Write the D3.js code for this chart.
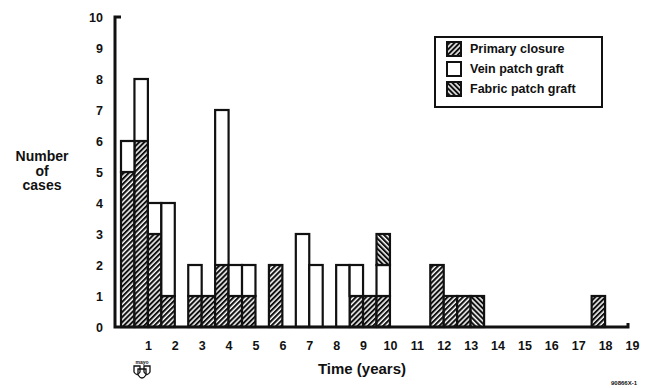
<!DOCTYPE html>
<html>
<head>
<meta charset="utf-8">
<script src="https://cdn.jsdelivr.net/npm/d3@7"></script>
<style>
  body { margin: 0; background: #fff; }
  svg { display: block; font-family: "Liberation Sans", Arial, sans-serif; font-weight: bold; }
</style>
</head>
<body>
<div id="chart"></div>
<script>
// half-year bins, start of each bin in years
const binStart = [0, 0.5, 1, 1.5, 2.5, 3, 3.5, 4, 4.5, 5.5, 6.5, 7, 8, 8.5, 9, 9.5, 11.5, 12, 12.5, 13, 17.5]
const primary  = [5, 6, 3, 1, 1, 1, 2, 1, 1, 2, 0, 0, 0, 1, 1, 1, 2, 1, 1, 0, 1]
const vein     = [1, 2, 1, 3, 1, 0, 5, 1, 1, 0, 3, 2, 2, 1, 0, 1, 0, 0, 0, 0, 0]
const fabric   = [0, 0, 0, 0, 0, 0, 0, 0, 0, 0, 0, 0, 0, 0, 0, 1, 0, 0, 0, 1, 0]

const seriesKeys = ["primary", "vein", "fabric"]
const seriesNames = ["Primary closure", "Vein patch graft", "Fabric patch graft"]
const xTicks = d3.range(1, 20)
const yTicks = d3.range(0, 11)

const width = 654
const height = 388
const binWidth = 0.5

let x = d3.scaleLinear().domain([0, 19]).range([121, 632])
let y = d3.scaleLinear().domain([0, 10]).range([327, 17])

const table = binStart.map((b, i) => ({start: b, primary: primary[i], vein: vein[i], fabric: fabric[i]}))
const stacked = d3.stack().keys(seriesKeys)(table)

let svg = d3.select("#chart").append("svg")
    .attr("width", width)
    .attr("height", height)

// Hatch patterns.
let defs = svg.append("defs")
function hatch(id, angle) {
  let p = defs.append("pattern")
      .attr("id", id)
      .attr("patternUnits", "userSpaceOnUse")
      .attr("width", 3.6)
      .attr("height", 3.6)
      .attr("patternTransform", `rotate(${angle})`)
  p.append("rect")
      .attr("width", 3.6)
      .attr("height", 3.6)
      .attr("fill", "#fff")
  p.append("rect")
      .attr("width", 2.1)
      .attr("height", 3.6)
      .attr("fill", "#111")
}
hatch("hatch-primary", 45)
hatch("hatch-fabric", -45)

const fills = {primary: "url(#hatch-primary)", vein: "#fff", fabric: "url(#hatch-fabric)"}

// Bars.
svg.append("g")
  .selectAll("g")
  .data(stacked)
  .join("g")
    .attr("fill", d => fills[d.key])
  .selectAll("rect")
  .data(d => d.filter(s => s[1] > s[0]))
  .join("rect")
    .attr("x", d => x(d.data.start))
    .attr("width", d => x(d.data.start + binWidth) - x(d.data.start))
    .attr("y", d => y(d[1]))
    .attr("height", d => y(d[0]) - y(d[1]))
    .attr("stroke", "#111")
    .attr("stroke-width", 2.2)

// Axis lines.
svg.append("path")
    .attr("d", `M121,${y(10)}H115V${y(0)}H628V${y(0) - 4}`)
    .attr("fill", "none")
    .attr("stroke", "#111")
    .attr("stroke-width", 3)

// Tick labels.
let xAxis = svg.append("g")
    .attr("transform", `translate(0,${y(0)})`)
    .call(d3.axisBottom(x).tickValues(xTicks).tickSize(0).tickPadding(14).tickFormat(d3.format("d")))
xAxis.select(".domain").remove()
xAxis.selectAll("text")
    .attr("font-size", 12.5)
    .attr("font-family", "Liberation Sans, Arial, sans-serif")
    .attr("fill", "#111")

let yAxis = svg.append("g")
    .attr("transform", "translate(115,0)")
    .call(d3.axisLeft(y).tickValues(yTicks).tickSize(0).tickPadding(12).tickFormat(d3.format("d")))
yAxis.select(".domain").remove()
yAxis.selectAll("text")
    .attr("font-size", 12.5)
    .attr("font-family", "Liberation Sans, Arial, sans-serif")
    .attr("fill", "#111")

// Axis titles.
svg.append("text")
    .attr("x", 362)
    .attr("y", 374)
    .attr("text-anchor", "middle")
    .attr("font-size", 15)
    .attr("fill", "#111")
    .text("Time (years)")

let yTitle = svg.append("text")
    .attr("text-anchor", "middle")
    .attr("font-size", 14)
    .attr("fill", "#111")
yTitle.selectAll("tspan")
  .data(["Number", "of", "cases"])
  .join("tspan")
    .attr("x", 42)
    .attr("y", (d, i) => 161 + i * 14.5)
    .text(d => d)

// Legend.
let legend = svg.append("g")
    .attr("transform", "translate(435,37)")
legend.append("rect")
    .attr("width", 167)
    .attr("height", 70)
    .attr("fill", "#fff")
    .attr("stroke", "#111")
    .attr("stroke-width", 2)
let item = legend.selectAll("g.item")
  .data(seriesKeys)
  .join("g")
    .attr("class", "item")
    .attr("transform", (d, i) => `translate(12,${12 + i * 20})`)
item.append("rect")
    .attr("y", -7)
    .attr("width", 14)
    .attr("height", 14)
    .attr("fill", d => fills[d])
    .attr("stroke", "#111")
    .attr("stroke-width", 2)
item.append("text")
    .attr("x", 23)
    .attr("dy", "0.35em")
    .attr("font-size", 12.5)
    .attr("fill", "#111")
    .text((d, i) => seriesNames[i])

// Small logo and figure number.
let logo = svg.append("g")
    .attr("transform", "translate(142,371)")
    .attr("fill", "none")
    .attr("stroke", "#111")
    .attr("stroke-width", 1.3)
logo.append("path").attr("d", "M-8,-5 H-2 V1 Q-5,6 -8,1 Z")
logo.append("path").attr("d", "M2,-5 H8 V1 Q5,6 2,1 Z")
logo.append("path").attr("d", "M-4,-2 H4 V4 Q0,10 -4,4 Z")
logo.append("text")
    .attr("y", -7)
    .attr("text-anchor", "middle")
    .attr("font-size", 5)
    .attr("stroke", "none")
    .attr("fill", "#111")
    .text("mayo")

svg.append("text")
    .attr("x", 637)
    .attr("y", 385)
    .attr("text-anchor", "end")
    .attr("font-size", 6)
    .attr("fill", "#111")
    .text("90866X-1")
</script>
</body>
</html>
